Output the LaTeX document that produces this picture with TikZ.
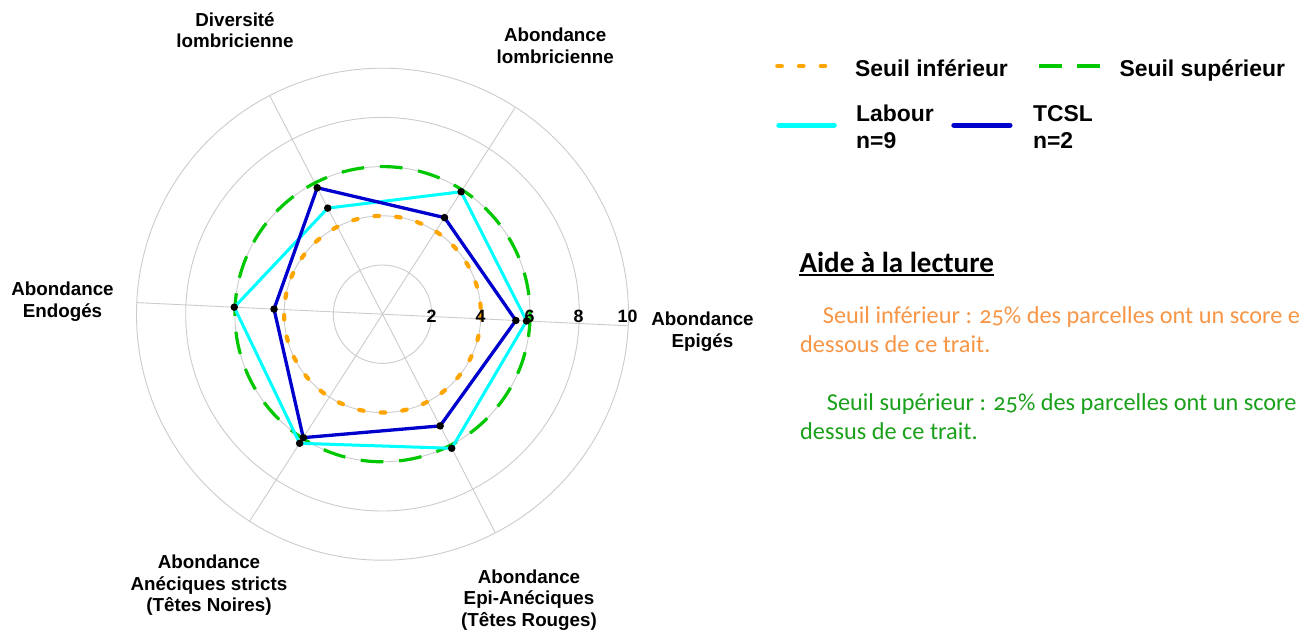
\documentclass[tikz,border=0pt]{standalone}
\usepackage{fontspec}
\setmainfont{Liberation Sans}
\newfontfamily\calib[Numbers=OldStyle]{Carlito}
\definecolor{gridc}{RGB}{204,204,204}
\definecolor{orng}{RGB}{255,165,0}
\definecolor{grn}{RGB}{0,200,0}
\definecolor{cyn}{RGB}{0,255,255}
\definecolor{blu}{RGB}{0,0,205}
\definecolor{txtorange}{RGB}{247,150,70}
\definecolor{txtgreen}{RGB}{26,160,26}
\tikzset{
  gridline/.style={draw=gridc, line width=0.9pt},
  lowthr/.style={draw=orng, line width=4.2pt, line cap=round, dash pattern=on 4.5pt off 17.2pt},
  highthr/.style={draw=grn, line width=3.2pt, dash pattern=on 22.7pt off 15.8pt},
  labourline/.style={draw=cyn, line width=3pt, line join=round},
  tcslline/.style={draw=blu, line width=3.3pt, line join=round},
  ptdot/.style={fill=black, circle, inner sep=0pt, minimum size=7.5pt},
  axlabel/.style={font=\fontsize{18.8pt}{21.6pt}\selectfont\bfseries, align=center, anchor=base, inner sep=0pt},
  ticklabel/.style={font=\fontsize{17.8pt}{20pt}\selectfont\bfseries, anchor=base, inner sep=0pt},
  legtext/.style={font=\fontsize{22.9pt}{27.3pt}\selectfont\bfseries, align=left, anchor=base west, inner sep=0pt},
  aidetext/.style={font=\calib\fontsize{24.3pt}{29.4pt}\selectfont, anchor=base west, inner sep=0pt},
}
\begin{document}
\begin{tikzpicture}[x=1pt, y=-1pt]
\useasboundingbox (0,0) rectangle (1299,631);
\fill[white] (0,0) rectangle (1299,631);

\begin{scope}[shift={(382.5,314.2)}]
  \coordinate (O) at (0,0);
  % grid
  \foreach \k in {2,4,6,8,10} \draw[gridline] (O) circle[radius=24.6*\k];
  \foreach \a in {0,60,120,180,240,300} \draw[gridline] (O) -- ({2.7-\a}:246);
  % thresholds
  \draw[lowthr] (O) circle[radius=98.4];
  \draw[highthr] (O) circle[radius=147.6];
  % Labour
  \coordinate (L1) at (2.7:144.2);
  \coordinate (L2) at (-57.3:145.5);
  \coordinate (L3) at (-117.3:119.4);
  \coordinate (L4) at (-177.3:148.4);
  \coordinate (L5) at (-237.3:153.4);
  \coordinate (L6) at (-297.3:150.9);
  % TCSL
  \coordinate (T1) at (2.7:133.5);
  \coordinate (T2) at (-57.3:114.8);
  \coordinate (T3) at (-117.3:142.3);
  \coordinate (T4) at (-177.3:108.6);
  \coordinate (T5) at (-237.3:146.7);
  \coordinate (T6) at (-297.3:125.7);
  \draw[labourline] (L1) -- (L2) -- (L3) -- (L4) -- (L5) -- (L6) -- cycle;
  \draw[tcslline] (T1) -- (T2) -- (T3) -- (T4) -- (T5) -- (T6) -- cycle;
  \foreach \p in {L1,L2,L3,L4,L5,L6,T1,T2,T3,T4,T5,T6}
    \node[ptdot] (d\p) at (\p) {};
\end{scope}

% tick labels
\node[ticklabel] (t2) at (431.5,322.7) {2};
\node[ticklabel] (t4) at (480.5,322.7) {4};
\node[ticklabel] (t6) at (529.5,322.7) {6};
\node[ticklabel] (t8) at (578.5,322.7) {8};
\node[ticklabel] (t10) at (627.5,322.7) {10};

% axis labels (anchor = baseline of last line)
\node[axlabel] (ldiv) at (235,47.9) {Diversité\\lombricienne};
\node[axlabel] (llomb) at (555.2,63.3) {Abondance\\lombricienne};
\node[axlabel] (lepig) at (702.5,347) {Abondance\\Epigés};
\node[axlabel] (lendo) at (62.5,317) {Abondance\\Endogés};
\node[axlabel] (lanec) at (209,611.8) {Abondance\\Anéciques stricts\\(Têtes Noires)};
\node[axlabel] (lepia) at (529,626.2) {Abondance\\Epi-Anéciques\\(Têtes Rouges)};

% legend
\coordinate (lo1) at (777.3,66); \coordinate (lo2) at (825.2,66);
\draw[lowthr, dash pattern=on 4.5pt off 17.2pt] (lo1) -- (lo2);
\node[legtext] (legLow) at (855,76.5) {Seuil inférieur};
\coordinate (lg1) at (1038.8,66); \coordinate (lg2) at (1100.2,66);
\draw[highthr] (lg1) -- (lg2);
\node[legtext] (legHigh) at (1119.3,76.5) {Seuil supérieur};
\coordinate (lc1) at (778.8,125.2); \coordinate (lc2) at (834.3,125.2);
\draw[labourline, line width=5pt, line cap=round] (lc1) -- (lc2);
\node[legtext] (legLab) at (856,149) {Labour\\n=9};
\coordinate (lb1) at (953.8,125.2); \coordinate (lb2) at (1010,125.2);
\draw[tcslline, line width=5pt, line cap=round] (lb1) -- (lb2);
\node[legtext] (legTcsl) at (1032.8,149) {TCSL\\n=2};

% reading aid
\node[font=\calib\fontsize{29pt}{34pt}\selectfont\bfseries, anchor=base west, inner sep=0pt] (aide) at (799.3,272.2) {Aide à la lecture};
\draw[line width=1.7pt] ([yshift=-2.6pt]aide.base west) -- ([yshift=-2.6pt]aide.base east);
\node[aidetext, text=txtorange] (o1) at (822.7,323.3) {Seuil inférieur : 25\% des parcelles ont un score e};
\node[aidetext, text=txtorange] (o2) at (800,352.7) {dessous de ce trait.};
\node[aidetext, text=txtgreen] (g1) at (826.7,410) {Seuil supérieur : 25\% des parcelles ont un score};
\node[aidetext, text=txtgreen] (g2) at (800,439) {dessus de ce trait.};
\end{tikzpicture}
\end{document}
